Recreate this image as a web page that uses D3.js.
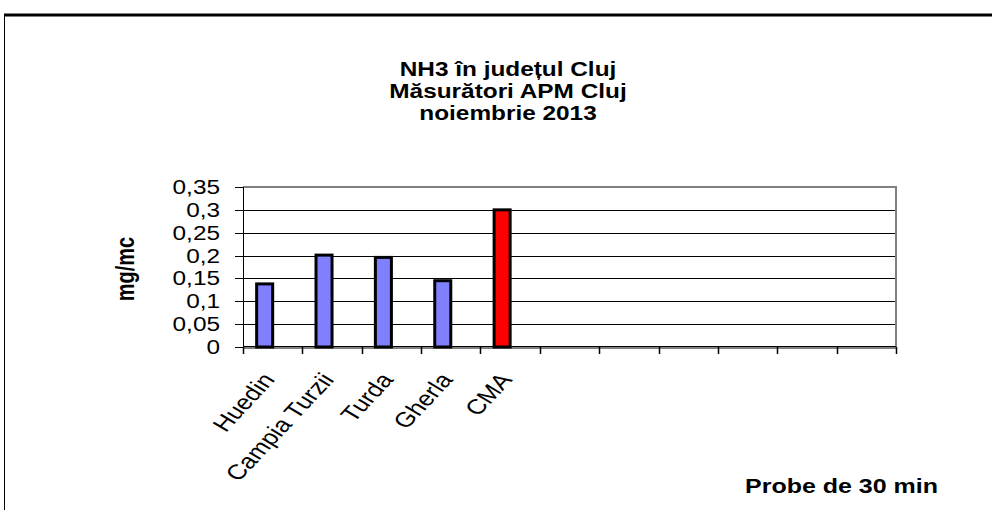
<!DOCTYPE html>
<html>
<head>
<meta charset="utf-8">
<script src="https://cdn.jsdelivr.net/npm/d3@7"></script>
<style>
  body { margin: 0; background: #fff; }
  svg { display: block; font-family: Arial, "Liberation Sans", sans-serif; }
</style>
</head>
<body>
<svg width="992" height="510"></svg>
<script>
// data (11 category slots, only 5 filled)
const categories = ["Huedin", "Campia Turzii", "Turda", "Gherla", "CMA", "", "", "", "", "", ""];
const values = [0.138, 0.201, 0.196, 0.145, 0.3];
const barColors = ["#8080ff", "#8080ff", "#8080ff", "#8080ff", "#ff0000"];
const yTicks = [0, 0.05, 0.1, 0.15, 0.2, 0.25, 0.3, 0.35];
const titleLines = ["NH3 în județul Cluj", "Măsurători APM Cluj", "noiembrie 2013"];

const svg = d3.select("svg");
const sx = 1.25; // the original picture is stretched sideways

const plotL = 243, plotR = 896, plotT = 187, plotB = 347;

const x = d3.scaleBand().domain(d3.range(categories.length)).range([plotL, plotR]);
const y = d3.scaleLinear().domain([0, 0.35]).range([plotB, plotT]);

// outer frame
svg.append("line").attr("x1", 4).attr("x2", 992).attr("y1", 15).attr("y2", 15)
    .attr("stroke", "#000").attr("stroke-width", 3);
svg.append("line").attr("x1", 4.5).attr("x2", 4.5).attr("y1", 14).attr("y2", 510)
    .attr("stroke", "#000").attr("stroke-width", 1);

// gridlines
svg.append("g")
    .selectAll("line")
    .data(yTicks.filter(d => d > 0 && d < 0.35))
    .enter().append("line")
    .attr("x1", plotL).attr("x2", plotR)
    .attr("y1", d => Math.round(y(d)) + 0.5).attr("y2", d => Math.round(y(d)) + 0.5)
    .attr("stroke", "#000").attr("stroke-width", 1);

// plot border (gray top/right/bottom)
svg.append("path")
    .attr("d", `M${plotL},${plotT} H${plotR} V${plotB + 1}`)
    .attr("fill", "none").attr("stroke", "#808080").attr("stroke-width", 2);
svg.append("line").attr("x1", plotL).attr("x2", plotR)
    .attr("y1", plotB + 1).attr("y2", plotB + 1)
    .attr("stroke", "#808080").attr("stroke-width", 2);
svg.append("line").attr("x1", plotL).attr("x2", plotR)
    .attr("y1", plotB - 0.5).attr("y2", plotB - 0.5)
    .attr("stroke", "#000").attr("stroke-width", 1);

// left axis line + y ticks
svg.append("line").attr("x1", plotL + 0.5).attr("x2", plotL + 0.5)
    .attr("y1", plotT).attr("y2", plotB + 6)
    .attr("stroke", "#000").attr("stroke-width", 1);
svg.append("g")
    .selectAll("line")
    .data(yTicks)
    .enter().append("line")
    .attr("x1", plotL - 8).attr("x2", plotL)
    .attr("y1", d => Math.round(y(d)) + 0.5).attr("y2", d => Math.round(y(d)) + 0.5)
    .attr("stroke", "#000");

// x ticks on category boundaries
svg.append("g")
    .selectAll("line")
    .data(d3.range(categories.length + 1))
    .enter().append("line")
    .attr("x1", d => Math.round(plotL + d * x.bandwidth()) + 0.5)
    .attr("x2", d => Math.round(plotL + d * x.bandwidth()) + 0.5)
    .attr("y1", plotB).attr("y2", plotB + 7)
    .attr("stroke", "#000").attr("stroke-width", 1.5);

// bars
svg.append("g")
    .selectAll("rect")
    .data(values)
    .enter().append("rect")
    .attr("x", (d, i) => x(i) + x.bandwidth() * 0.23)
    .attr("width", x.bandwidth() * 0.27)
    .attr("y", d => y(d))
    .attr("height", d => y(0) - y(d))
    .attr("fill", (d, i) => barColors[i])
    .attr("stroke", "#000").attr("stroke-width", 3);

// y tick labels
svg.append("g")
    .selectAll("text")
    .data(yTicks)
    .enter().append("text")
    .attr("transform", d => "translate(220," + (y(d) + 7) + ") scale(" + sx + ",1)")
    .attr("text-anchor", "end")
    .attr("font-size", 19.5)
    .text(d => d3.format(".2~f")(d).replace(".", ","));

// x labels, rotated
svg.append("g")
    .selectAll("text")
    .data(categories.filter(c => c !== ""))
    .enter().append("text")
    .attr("transform", (d, i) => "translate(" + (x(i) + x.bandwidth() / 2 + 3) + "," + (plotB + 33) + ") scale(" + sx + ",1) rotate(-53)")
    .attr("text-anchor", "end")
    .attr("font-size", 21)
    .text(d => d);

// title
svg.append("g")
    .selectAll("text")
    .data(titleLines)
    .enter().append("text")
    .attr("transform", (d, i) => "translate(508," + (76 + i * 22) + ") scale(" + sx + ",1)")
    .attr("text-anchor", "middle")
    .attr("font-size", 19.5)
    .attr("font-weight", "bold")
    .text(d => d);

// axis titles
svg.append("text")
    .attr("transform", "translate(134,269) scale(" + sx + ",1) rotate(-90)")
    .attr("text-anchor", "middle")
    .attr("font-size", 20)
    .attr("font-weight", "bold")
    .text("mg/mc");

svg.append("text")
    .attr("transform", "translate(745,493) scale(" + sx + ",1)")
    .attr("font-size", 20)
    .attr("font-weight", "bold")
    .text("Probe de 30 min");
</script>
</body>
</html>
